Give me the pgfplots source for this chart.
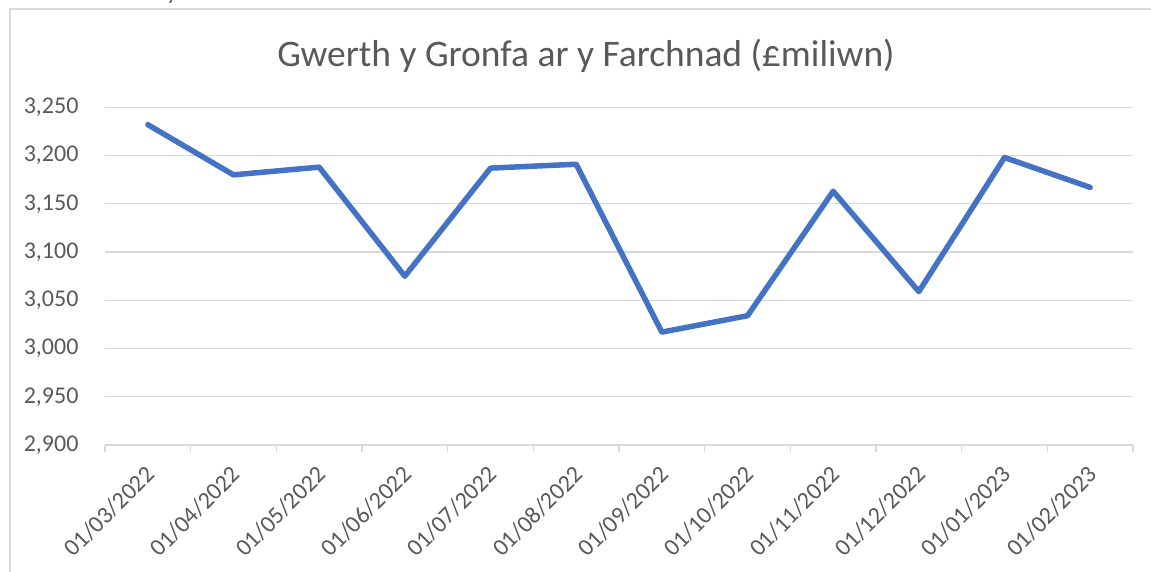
\documentclass[border=0pt]{standalone}
\usepackage{pgfplots}
\usepackage{pgfplotstable}
\pgfplotsset{compat=1.18}
\usepackage{fontspec}
\setmainfont{Carlito}
\definecolor{lineblue}{HTML}{4472C4}
\definecolor{gridgray}{HTML}{D9D9D9}
\definecolor{txtgray}{HTML}{595959}
\pgfplotstableread{
x y
0 3232
1 3180
2 3188
3 3075
4 3187
5 3191
6 3017
7 3034
8 3163
9 3059
10 3198
11 3167
}\datatable
\begin{document}
\begin{tikzpicture}
\clip (0pt,-571pt) rectangle (1151pt,0pt);
\draw[gridgray, line width=1.3pt] (10pt,-600pt) -- (10pt,-9pt) -- (1200pt,-9pt);
\node[anchor=base, text=txtgray, font=\fontsize{37.5}{42}\selectfont, inner sep=0pt] at (586pt,-66pt) {Gwerth y Gronfa ar y Farchnad (£miliwn)};
\node[anchor=base, text=txtgray, font=\fontsize{24}{28}\selectfont, inner sep=0pt] at (172pt,1pt) {y};
\begin{axis}[
  at={(105pt,-445pt)}, anchor=south west,
  width=1028pt, height=337.7pt, scale only axis,
  xmin=-0.5, xmax=11.5, ymin=2900, ymax=3250,
  ytick={2900,2950,...,3250},
  xtick={0,...,11},
  xticklabels={01/03/2022,01/04/2022,01/05/2022,01/06/2022,01/07/2022,01/08/2022,01/09/2022,01/10/2022,01/11/2022,01/12/2022,01/01/2023,01/02/2023},
  minor xtick={-0.5,0.5,...,11.5},
  axis x line*=bottom, axis y line*=left,
  x axis line style={draw=gridgray, line width=1.3pt, -},
  y axis line style={draw=none},
  ytick style={draw=none},
  major x tick style={draw=none},
  minor x tick style={draw=gridgray, line width=1.3pt},
  minor tick length=7pt,
  major tick length=0pt,
  tick align=outside,
  ymajorgrids,
  grid style={draw=gridgray, line width=1.3pt},
  yticklabel style={font=\fontsize{24}{28}\selectfont, text=txtgray, xshift=-23pt},
  xticklabel style={xshift=5pt, yshift=-23pt, font=\fontsize{24}{28}\selectfont, text=txtgray, rotate=45, anchor=east},
  /pgf/number format/.cd, 1000 sep={,}, fixed, assume math mode=true,
]
\addplot[lineblue, line width=5.5pt, line join=round, line cap=round] table[x=x,y=y] {\datatable};
\end{axis}
\end{tikzpicture}
\end{document}
